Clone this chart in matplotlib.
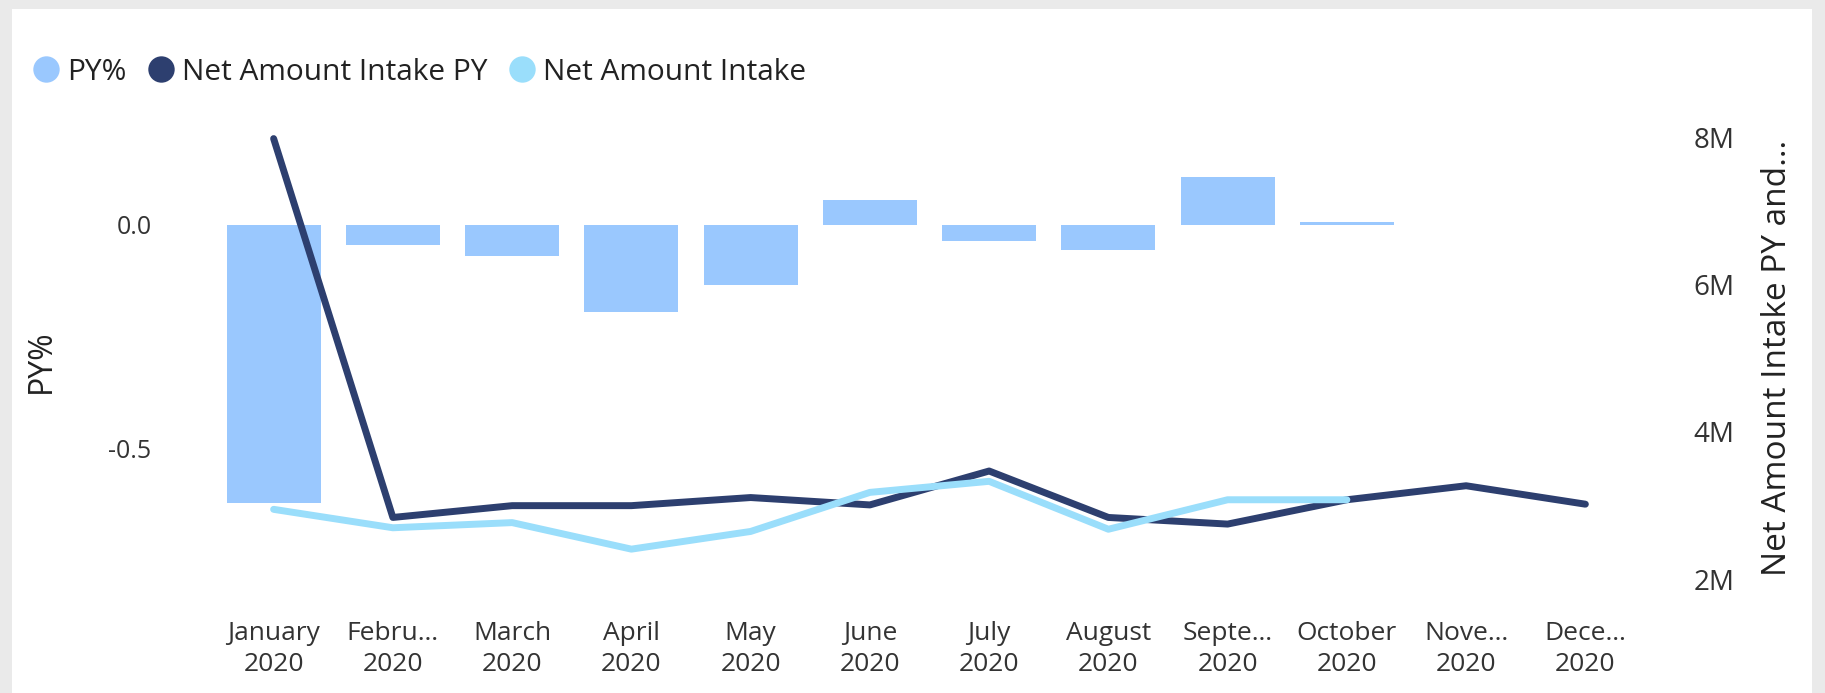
import matplotlib.pyplot as plt
from matplotlib.lines import Line2D
from matplotlib.patches import Rectangle

plt.rcParams['font.family'] = ['Open Sans', 'DejaVu Sans']

months = ['January\n2020', 'Febru…\n2020', 'March\n2020', 'April\n2020', 'May\n2020',
          'June\n2020', 'July\n2020', 'August\n2020', 'Septe…\n2020', 'October\n2020',
          'Nove…\n2020', 'Dece…\n2020']
py_pct = [-0.622, -0.045, -0.071, -0.195, -0.136, 0.054, -0.036, -0.056, 0.107, 0.006]
intake_py = [7.98, 2.84, 3.00, 3.00, 3.11, 3.01, 3.47, 2.84, 2.75, 3.08, 3.27, 3.02]
intake = [2.95, 2.70, 2.77, 2.41, 2.65, 3.18, 3.33, 2.68, 3.08, 3.08]

bar_col = '#9AC8FE'
dark_col = '#2D3F6F'
light_col = '#9ADEFB'
txt_col = '#333333'

fig = plt.figure(figsize=(18.25, 6.93), dpi=100, facecolor='#EAEAEA')
fig.patches.append(Rectangle((12/1825, 0), (1812-12)/1825, (693-9)/693,
                             transform=fig.transFigure, facecolor='white',
                             edgecolor='none', zorder=-5))

ax = fig.add_axes([214/1825, 93/693, 1431/1825, 485/693])
ax.set_facecolor('none')
x = list(range(len(months)))
ax.bar(x[:len(py_pct)], py_pct, width=0.79, color=bar_col)
ax.set_xlim(-0.5, 11.5)
ax.set_ylim(-0.840, 0.245)
ax.set_yticks([0, -0.5])
ax.set_yticklabels(['0.0', '-0.5'])
ax.set_xticks(x)
ax.set_xticklabels(months, linespacing=1.3)
ax.tick_params(axis='y', length=0, pad=45, labelsize=18, labelcolor=txt_col)
ax.tick_params(axis='x', length=0, pad=15, labelsize=19, labelcolor=txt_col)
ax.set_ylabel('PY%', fontsize=23, color='#222222')
ax.yaxis.set_label_coords(-0.109, 0.493)
for s in ax.spines.values():
    s.set_visible(False)

ax2 = ax.twinx()
ax2.plot(x, intake_py, color=dark_col, lw=5, solid_capstyle='round', solid_joinstyle='round')
ax2.plot(x[:len(intake)], intake, color=light_col, lw=5, solid_capstyle='round', solid_joinstyle='round')
ax2.set_ylim(1.72, 8.30)
ax2.set_yticks([2, 4, 6, 8])
ax2.set_yticklabels(['2M', '4M', '6M', '8M'])
ax2.tick_params(axis='y', length=0, pad=35, labelsize=20, labelcolor=txt_col)
ax2.set_ylabel('Net Amount Intake PY and…', fontsize=24, color='#222222')
ax2.yaxis.set_label_coords(1.081, 0.5)
for s in ax2.spines.values():
    s.set_visible(False)

handles = [Line2D([], [], ls='none', marker='o', ms=19, color=c, mec='none')
           for c in (bar_col, dark_col, light_col)]
fig.legend(handles, ['PY%', 'Net Amount Intake PY', 'Net Amount Intake'],
           loc='center left', bbox_to_anchor=(30/1825, 1 - 72/693), ncol=3,
           frameon=False, fontsize=21.5, handletextpad=0.15, columnspacing=0.6,
           handlelength=1.1, borderpad=0, borderaxespad=0,
           labelcolor='#222222')

fig.savefig('out.png', dpi=100, facecolor=fig.get_facecolor())
